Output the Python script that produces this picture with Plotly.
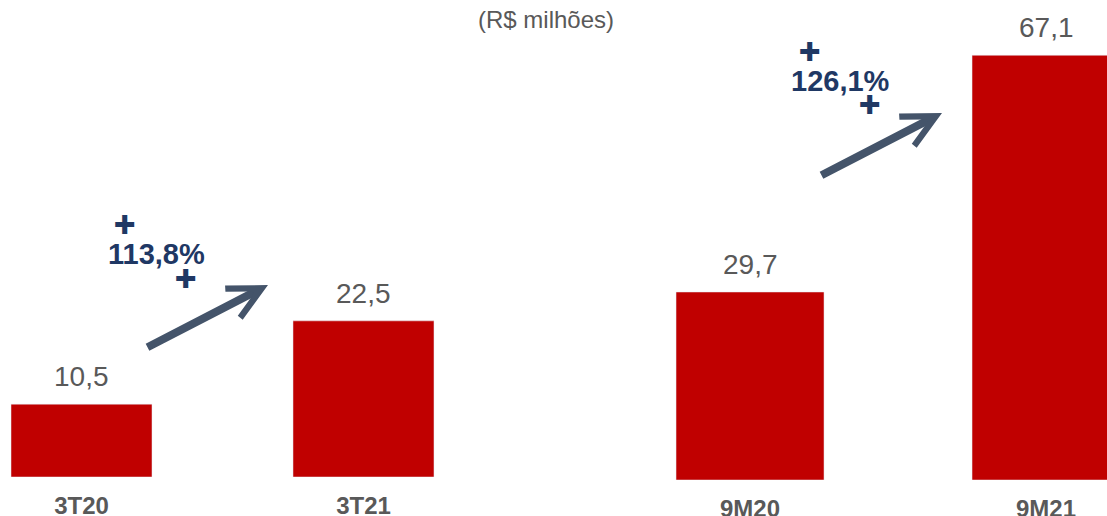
import plotly.graph_objects as go

W, H = 1107, 516

# dados (R$ milhões)
trim_labels = ["3T20", "3T21"]
trim_values = [10.5, 22.5]
acum_labels = ["9M20", "9M21"]
acum_values = [29.7, 67.1]
subtitle = "(R$ milhões)"
growth_labels = ["113,8%", "126,1%"]

RED = "#C00000"
GREY = "#595959"
NAVY = "#1F3864"
SLATE = "#44546A"
FONT = "Liberation Sans, Arial, sans-serif"


def fmt(v):
    return f"{v:.1f}".replace(".", ",")


def px(x):
    return x / W


def py(y):
    return 1 - y / H


fig = go.Figure()

# os dois grupos têm escalas diferentes, por isso dois pares de eixos
fig.add_trace(go.Bar(x=trim_labels, y=trim_values, width=0.5, xaxis="x", yaxis="y"))
fig.add_trace(go.Bar(x=acum_labels, y=acum_values, width=0.5, xaxis="x2", yaxis="y2"))
fig.update_traces(marker_color=RED, showlegend=False)

tick_style = dict(type="category", showgrid=False, zeroline=False, showline=False,
                  ticks="", ticklabelstandoff=12,
                  tickfont=dict(size=24, color=GREY, family=FONT, weight="bold"))
y_style = dict(showgrid=False, zeroline=False, showline=False, showticklabels=False)

fig.update_layout(
    width=W, height=H,
    margin=dict(l=0, r=0, t=0, b=0, autoexpand=False),
    paper_bgcolor="white", plot_bgcolor="white",
    font=dict(family=FONT),
    bargap=0.5,
    xaxis=dict(domain=[0, px(520)], range=[-0.289, 1.555], anchor="y", **tick_style),
    yaxis=dict(domain=[py(477), 1], range=[0, 477 / 6.94], anchor="x", **y_style),
    xaxis2=dict(domain=[px(560), 1], range=[-0.642, 1.206], anchor="y2", **tick_style),
    yaxis2=dict(domain=[py(480), 1], range=[0, 480 / 6.33], anchor="x2", **y_style),
)

# rótulos de valor, um pouco mais afastados da barra do que o textposition permite
for labels, values, xr, yr in [(trim_labels, trim_values, "x", "y"),
                               (acum_labels, acum_values, "x2", "y2")]:
    for name, v in zip(labels, values):
        fig.add_annotation(xref=xr, yref=yr, x=name, y=v, text=fmt(v), showarrow=False,
                           xanchor="center", yanchor="bottom", yshift=10,
                           font=dict(size=28, color=GREY, family=FONT))


def label(x, y, text, size, color, bold=False, family=FONT):
    fig.add_annotation(xref="paper", yref="paper", x=px(x), y=py(y), text=text, showarrow=False,
                       xanchor="center", yanchor="middle",
                       font=dict(size=size, color=color, family=family,
                                 weight="bold" if bold else "normal"))


def arrow(x0, y0, x1, y1):
    fig.add_annotation(xref="paper", yref="paper", x=px(x1), y=py(y1), text="",
                       ax=x0 - x1, ay=y0 - y1, axref="pixel", ayref="pixel",
                       showarrow=True, arrowhead=5, arrowsize=0.8, arrowwidth=8,
                       arrowcolor=SLATE, standoff=0)


label(546, 20, subtitle, 24, GREY)

# setas e percentuais
label(156, 254, growth_labels[0], 29, NAVY, bold=True)
label(125, 225, "✚", 26, NAVY, family="DejaVu Sans")
label(186, 279, "✚", 26, NAVY, family="DejaVu Sans")
arrow(146, 348, 268, 285)

label(840, 81, growth_labels[1], 29, NAVY, bold=True)
label(810, 52, "✚", 26, NAVY, family="DejaVu Sans")
label(870, 105, "✚", 26, NAVY, family="DejaVu Sans")
arrow(820, 176, 942, 113)

# o body traz margem de 8px por padrão
fig.write_html("out.html", config=dict(displayModeBar=False),
               post_script="document.body.style.margin='0';")
